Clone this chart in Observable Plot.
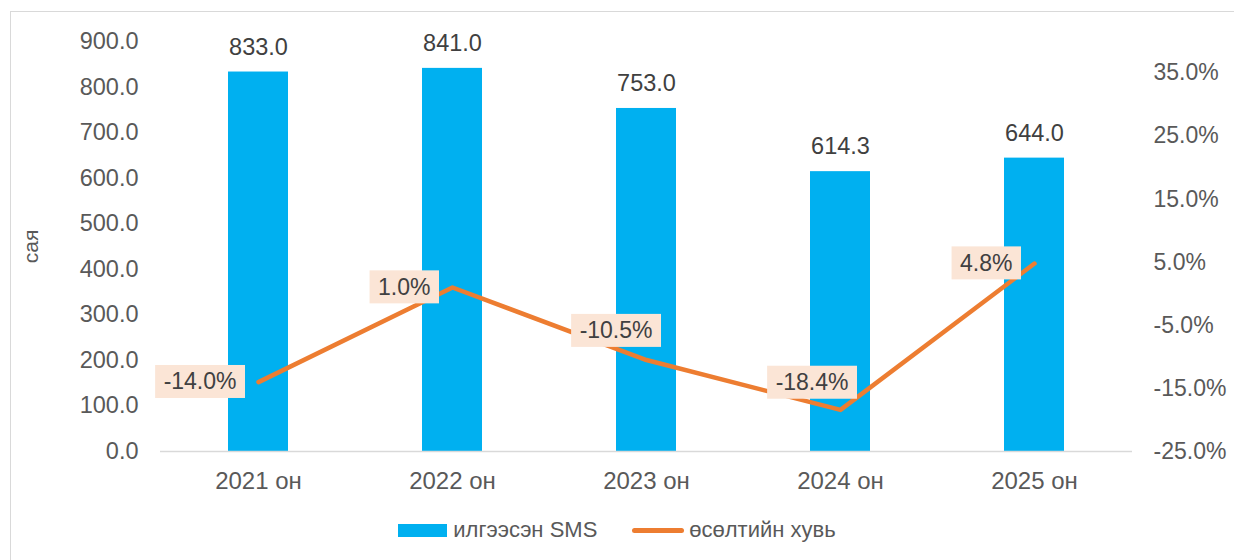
<!DOCTYPE html>
<html>
<head>
<meta charset="utf-8">
<script src="https://cdn.jsdelivr.net/npm/d3@7"></script>
<script src="https://cdn.jsdelivr.net/npm/@observablehq/plot@0.6"></script>
<style>
  html, body { margin: 0; padding: 0; background: #fff; overflow: hidden; }
  #wrap { position: relative; width: 1234px; height: 560px; overflow: hidden; font-family: "Liberation Sans", Arial, sans-serif; }
  #frame { position: absolute; left: 10px; top: 11px; width: 1300px; height: 700px; border: 1.5px solid #d9d9d9; box-sizing: border-box; }
  #chart { position: absolute; left: 0; top: 0; }
  #legend { position: absolute; left: 0; top: 515px; width: 1234px; height: 30px; display: flex; justify-content: center; align-items: center; font-size: 22px; color: #595959; }
  .item { display: flex; align-items: center; }
  .sw-bar { width: 49px; height: 13px; background: #00B0F0; margin-right: 6px; }
  .sw-line { width: 52px; height: 5px; border-radius: 3px; background: #ED7D31; margin-right: 5px; }
  .gap { width: 35px; }
</style>
</head>
<body>
<div id="wrap">
  <div id="frame"></div>
  <div id="chart"></div>
  <div id="legend">
    <div class="item"><div class="sw-bar"></div><span>илгээсэн SMS</span></div>
    <div class="gap"></div>
    <div class="item"><div class="sw-line"></div><span>өсөлтийн хувь</span></div>
  </div>
</div>
<script>
// ---- data ----
const years = ["2021 он", "2022 он", "2023 он", "2024 он", "2025 он"];
const sms = [833.0, 841.0, 753.0, 614.3, 644.0];
const growth = [-14.0, 1.0, -10.5, -18.4, 4.8];
const leftTicks = [0, 100, 200, 300, 400, 500, 600, 700, 800, 900];
const rightTicks = [-25, -15, -5, 5, 15, 25, 35];
const leftDomain = [0, 900];
const rightDomain = [-25, 40];

// map secondary (percent) axis onto primary scale
const toLeft = p => (p - rightDomain[0]) / (rightDomain[1] - rightDomain[0]) * (leftDomain[1] - leftDomain[0]) + leftDomain[0];
const fromLeft = v => (v - leftDomain[0]) / (leftDomain[1] - leftDomain[0]) * (rightDomain[1] - rightDomain[0]) + rightDomain[0];

const rows = years.map((y, i) => ({year: y, sms: sms[i], growth: growth[i]}));

const PCT_FILL = "#404041";
// label placement (styling): default left of point; some nudged above
const nudge = {"2023 он": [6, -29], "2024 он": [8, -27]};
const labelMarks = rows.map(r => {
  const [dx, dy] = nudge[r.year] || [-22, 0];
  return Plot.text([r], {
    x: "year", y: d => toLeft(d.growth),
    text: d => d.growth.toFixed(1) + "%",
    textAnchor: "end", dx, dy,
    fill: PCT_FILL, fontSize: 23
  });
});

const plot = Plot.plot({
  width: 1234, height: 500,
  marginLeft: 160, marginRight: 102, marginTop: 41, marginBottom: 49,
  style: {fontFamily: "Liberation Sans, Arial, sans-serif", fontSize: "23px", color: "#595959", background: "transparent"},
  x: {type: "band", domain: years, paddingInner: 0.691, paddingOuter: 0.3455, label: null},
  y: {domain: leftDomain, label: null},
  marks: [
    Plot.axisX({tickSize: 0, tickPadding: 20, label: null, fontSize: 24}),
    Plot.axisY(leftTicks, {anchor: "left", tickSize: 0, tickPadding: 22, tickFormat: d => d.toFixed(1), label: null, fontSize: 23.5}),
    Plot.axisY([], {anchor: "left", tickSize: 0, label: "сая", labelArrow: "none", labelAnchor: "center", labelOffset: 137, fontSize: 21}),
    Plot.axisY(rightTicks.map(toLeft), {anchor: "right", tickSize: 0, tickPadding: 21, tickFormat: v => fromLeft(v).toFixed(1) + "%", label: null, fontSize: 23}),
    Plot.barY(rows, {x: "year", y: "sms", fill: "#00B0F0"}),
    Plot.ruleY([0], {stroke: "#d9d9d9", strokeWidth: 1.5}),
    Plot.text(rows, {x: "year", y: "sms", text: d => d.sms.toFixed(1), dy: -25, fill: "#404040", fontSize: 23.5}),
    Plot.line(rows, {x: "year", y: d => toLeft(d.growth), stroke: "#ED7D31", strokeWidth: 4.5, strokeLinecap: "round", strokeLinejoin: "round"}),
    ...labelMarks
  ]
});
document.getElementById("chart").appendChild(plot);

// label background boxes
plot.querySelectorAll('g[fill="' + PCT_FILL + '"] text').forEach(t => {
  const b = t.getBBox();
  const padX = 8.5, padY = 4.5;
  const r = document.createElementNS("http://www.w3.org/2000/svg", "rect");
  r.setAttribute("x", b.x - padX);
  r.setAttribute("y", b.y - padY + 1);
  r.setAttribute("width", b.width + 2 * padX);
  r.setAttribute("height", b.height + 2 * padY - 2);
  r.setAttribute("fill", "#FBE5D6");
  const tr = t.getAttribute("transform");
  if (tr) r.setAttribute("transform", tr);
  t.parentNode.insertBefore(r, t);
});
</script>
</body>
</html>
